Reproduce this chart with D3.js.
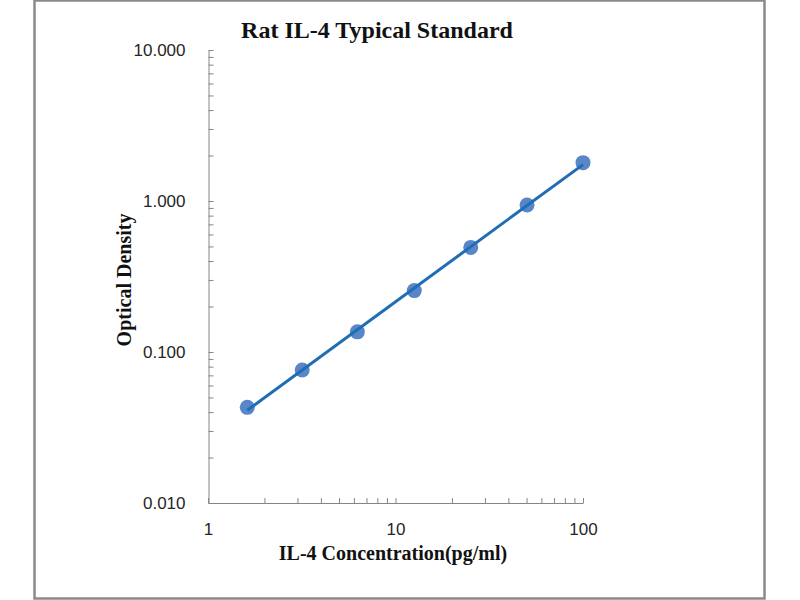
<!DOCTYPE html>
<html>
<head>
<meta charset="utf-8">
<script src="https://cdn.jsdelivr.net/npm/d3@7"></script>
<style>
  body { margin: 0; background: #fff; }
  .axis path, .axis line { stroke: #868686; }
  .axis text { font-family: "Liberation Sans", Arial, sans-serif; font-size: 17px; fill: #262626; }
</style>
</head>
<body>
<svg id="chart" width="800" height="600"></svg>
<script>
"use strict"

// standard curve: concentration (pg/ml) vs optical density
const concentration = [1.62, 3.18, 6.26, 12.6, 25.2, 50.3, 100]
const opticalDensity = [0.043, 0.076, 0.136, 0.255, 0.493, 0.941, 1.795]
const xDomain = [1, 100]
const yDomain = [0.01, 10]

const svg = d3.select("#chart")

svg.append("rect")
    .attr("x", 34.5)
    .attr("y", 0.5)
    .attr("width", 730)
    .attr("height", 598)
    .attr("fill", "none")
    .attr("stroke", "#8a8a8a")
    .attr("stroke-width", 2.5)

const x = d3.scaleLog().domain(xDomain).range([208, 583])
const y = d3.scaleLog().domain(yDomain).range([503, 50])

const isDecade = v => Math.abs(Math.log10(v) - Math.round(Math.log10(v))) < 1e-9

svg.append("g")
    .attr("class", "axis")
    .attr("transform", "translate(0,503)")
    .call(d3.axisBottom(x)
        .tickSizeInner(-5)
        .tickSizeOuter(0)
        .tickPadding(20)
        .tickFormat(d => isDecade(d) ? d3.format("d")(d) : ""))

svg.append("g")
    .attr("class", "axis")
    .attr("transform", "translate(208.5,0)")
    .call(d3.axisLeft(y)
        .tickSizeInner(-5)
        .tickSizeOuter(0)
        .tickPadding(23)
        .tickFormat(d => isDecade(d) ? d3.format(".3f")(d) : ""))

// power trendline: least squares in log-log space
const lx = concentration.map(Math.log10)
const ly = opticalDensity.map(Math.log10)
const mx = d3.mean(lx), my = d3.mean(ly)
const slope = d3.sum(lx, (v, i) => (v - mx) * (ly[i] - my)) / d3.sum(lx, v => (v - mx) * (v - mx))
const icpt = my - slope * mx
const fit = c => Math.pow(10, icpt + slope * Math.log10(c))
const ext = d3.extent(concentration)

svg.selectAll(".dot")
    .data(concentration)
    .enter()
    .append("circle")
    .attr("class", "dot")
    .attr("cx", d => x(d))
    .attr("cy", (d, i) => y(opticalDensity[i]))
    .attr("r", 7.5)
    .style("fill", "#4a7cc1")
    .style("opacity", 0.92)

svg.append("path")
    .datum(ext)
    .attr("d", d3.line().x(d => x(d)).y(d => y(fit(d))))
    .style("fill", "none")
    .style("stroke", "#1f6db4")
    .style("stroke-width", 3)

svg.append("text")
    .attr("x", 377)
    .attr("y", 38)
    .style("text-anchor", "middle")
    .style("font-family", "'Liberation Serif', 'Times New Roman', serif")
    .style("font-weight", "bold")
    .style("font-size", "24px")
    .style("fill", "#111")
    .text("Rat IL-4 Typical Standard")

svg.append("text")
    .attr("x", 393)
    .attr("y", 560)
    .style("text-anchor", "middle")
    .style("font-family", "'Liberation Serif', 'Times New Roman', serif")
    .style("font-weight", "bold")
    .style("font-size", "20px")
    .style("fill", "#111")
    .text("IL-4 Concentration(pg/ml)")

svg.append("text")
    .attr("transform", "translate(131,280) rotate(-90)")
    .style("text-anchor", "middle")
    .style("font-family", "'Liberation Serif', 'Times New Roman', serif")
    .style("font-weight", "bold")
    .style("font-size", "20px")
    .style("fill", "#111")
    .text("Optical Density")
</script>
</body>
</html>
